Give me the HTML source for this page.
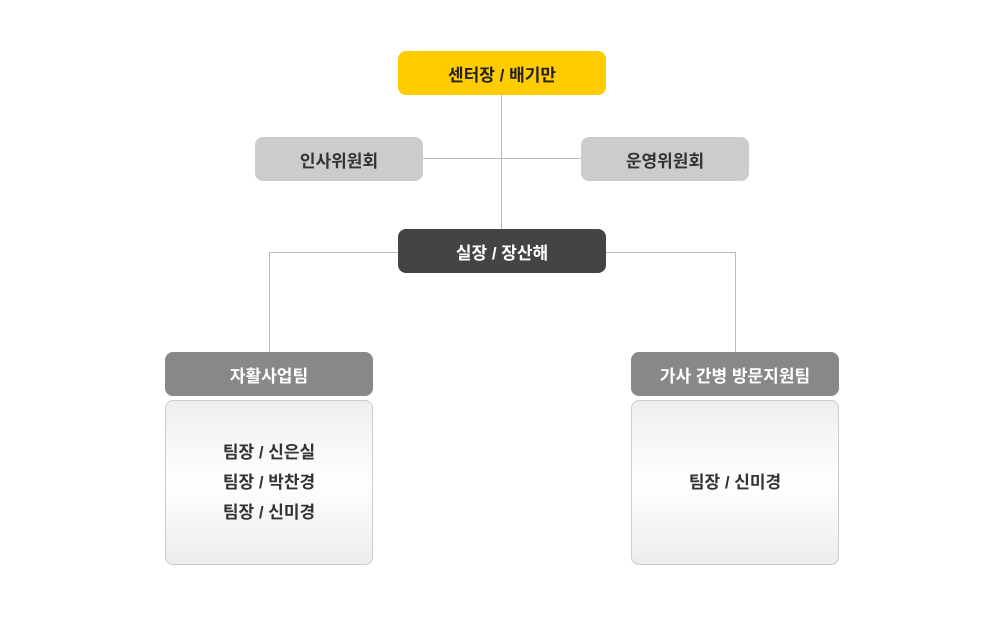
<!DOCTYPE html>
<html><head><meta charset="utf-8"><style>
body{margin:0;width:1004px;height:626px;background:#fff;position:relative;overflow:hidden;font-family:"Liberation Sans","Noto Sans CJK KR",sans-serif;}
.b{position:absolute;border-radius:8px;display:flex;align-items:center;justify-content:center;font-size:17px;font-weight:bold;box-sizing:border-box;}
.l{position:absolute;background:#bbb;}
.c{position:absolute;border:1px solid #ccc;border-radius:8px;box-sizing:border-box;background:linear-gradient(#eeeeee 0%,#ffffff 50%,#ececec 100%);display:flex;flex-direction:column;align-items:center;justify-content:center;font-size:17px;font-weight:bold;color:#333;line-height:30px;}
</style></head><body>
<div class="l" style="left:501px;top:95px;width:1px;height:134px"></div>
<div class="l" style="left:423px;top:158px;width:158px;height:1px"></div>
<div class="l" style="left:269px;top:252px;width:129px;height:1px"></div>
<div class="l" style="left:269px;top:252px;width:1px;height:100px"></div>
<div class="l" style="left:606px;top:252px;width:130px;height:1px"></div>
<div class="l" style="left:735px;top:252px;width:1px;height:100px"></div>
<div class="b" style="left:398px;top:51px;width:208px;height:44px;background:#ffcc00;color:#222">센터장 / 배기만</div>
<div class="b" style="left:255px;top:137px;width:168px;height:44px;background:#cccccc;color:#333">인사위원회</div>
<div class="b" style="left:581px;top:137px;width:168px;height:44px;background:#cccccc;color:#333">운영위원회</div>
<div class="b" style="left:398px;top:229px;width:208px;height:44px;background:#444;color:#fff">실장 / 장산해</div>
<div class="b" style="left:165px;top:352px;width:208px;height:44px;background:#888;color:#fff">자활사업팀</div>
<div class="b" style="left:631px;top:352px;width:208px;height:44px;background:#888;color:#fff">가사 간병 방문지원팀</div>
<div class="c" style="left:165px;top:400px;width:208px;height:165px"><div>팀장 / 신은실</div><div>팀장 / 박찬경</div><div>팀장 / 신미경</div></div>
<div class="c" style="left:631px;top:400px;width:208px;height:165px"><div>팀장 / 신미경</div></div>
</body></html>
